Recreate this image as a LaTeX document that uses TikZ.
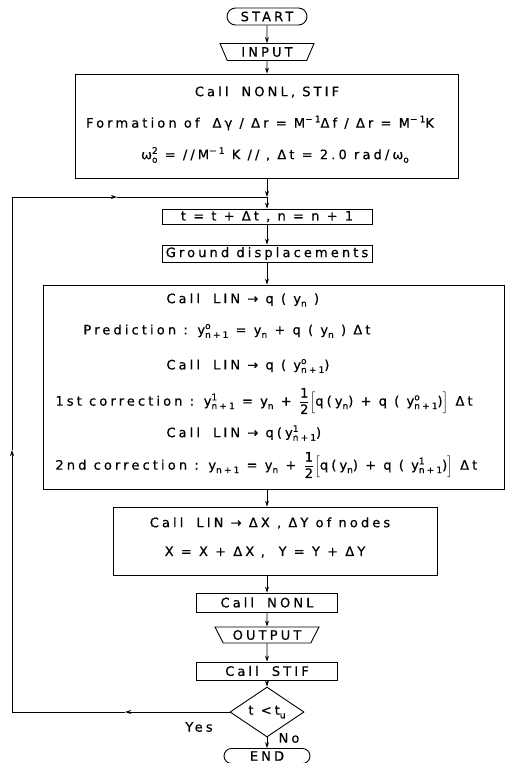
\documentclass[tikz,border=0pt]{standalone}
\usepackage{amsmath}
\usepackage{fontspec}
\setmainfont{DejaVu Sans}[LetterSpace=24, FakeBold=0.6]
\usetikzlibrary{arrows.meta,shapes.geometric,shapes.misc}
\newcommand\hi[1]{\raisebox{0.75ex}{\fontsize{9}{9}\selectfont #1}}
\newcommand\lo[1]{\raisebox{-0.5ex}{\fontsize{9}{9}\selectfont #1}}
\newcommand\hl[2]{\makebox[0pt][l]{\hi{#1}}\lo{#2}}
\newcommand\half{\ensuremath{\dfrac{\text{1}}{\text{2}}}}
\begin{document}
\begin{tikzpicture}[x=1pt,y=-1pt,
  font=\fontsize{13}{15}\selectfont, line width=0.9pt,
  box/.style={draw, rectangle, inner sep=0pt},
  term/.style={draw, rounded rectangle, inner sep=0pt},
  io/.style={draw, trapezium, shape border rotate=180, trapezium stretches body, inner sep=0pt},
  txt/.style={inner sep=0pt},
  arr/.style={-{Stealth[length=6pt,width=4pt]}}]
\useasboundingbox (0,0) rectangle (505,763);
% terminals and boxes
\node[term, minimum width=80pt, minimum height=17pt] (start) at (267,16.5) {START};
\node[io, minimum width=94pt, minimum height=17pt, trapezium left angle=53, trapezium right angle=53] (input) at (267,52) {INPUT};
\node[box, minimum width=383pt, minimum height=104pt] (box1) at (266.5,126) {};
\node[txt] (b1a) at (267,92) {Call\quad NONL, STIF};
\node[txt] (b1b) at (260,123) {Formation of\quad Δγ / Δr = M\hi{−1}Δf / Δr = M\hi{−1}K};
\node[txt] (b1c) at (275,155) {ω\hl{2}{o} = //M\hi{−1} K //\enspace, Δt = 2.0 rad/ω\lo{o}};
\coordinate (merge) at (267,197);
\node[box, minimum width=210pt, minimum height=15pt] (tbox) at (267,216.5) {t = t + Δt , n = n + 1};
\node[box, minimum width=210pt, minimum height=17pt] (ground) at (267,253.5) {Ground displacements};
\node[box, minimum width=461pt, minimum height=204pt] (box2) at (273.5,387) {};
\node[txt, anchor=west] (c1) at (166,300) {Call\quad LIN → q ( y\lo{n} )};
\node[txt, anchor=west] (c2) at (83,331) {Prediction : y\hl{o}{n+1} = y\lo{n} + q ( y\lo{n} ) Δt};
\node[txt, anchor=west] (c3) at (166,366) {Call\quad LIN → q ( y\hl{o}{n+1})};
\node[txt, anchor=west] (c4) at (55,401) {1st correction : y\hl{1}{n+1} = y\lo{n} + \half\(\Bigl[\)q(y\lo{n}) + q ( y\hl{o}{n+1})\(\Bigr]\) Δt};
\node[txt, anchor=west] (c5) at (166,433) {Call\quad LIN → q(y\hl{1}{n+1})};
\node[txt, anchor=west] (c6) at (55,465) {2nd correction : y\lo{n+1} = y\lo{n} + \half\(\Bigl[\)q(y\lo{n}) + q ( y\hl{1}{n+1})\(\Bigr]\) Δt};
\node[box, minimum width=324pt, minimum height=68pt] (box3) at (275,541) {};
\node[txt] (d1) at (270,523) {Call\quad LIN → ΔX , ΔY of nodes};
\node[txt] (d2) at (265,552) {X = X + ΔX\enspace , \enspace Y = Y + ΔY};
\node[box, minimum width=141pt, minimum height=19pt] (nonl) at (267,602.5) {Call\quad NONL};
\node[io, minimum width=104pt, minimum height=16pt, trapezium left angle=50, trapezium right angle=50] (output) at (267,635) {OUTPUT};
\node[box, minimum width=141pt, minimum height=18pt] (stif) at (267,671) {Call\quad STIF};
\node[draw, diamond, minimum width=74pt, minimum height=42pt, inner sep=0pt] (dia) at (267,712) {t <t\lo{u}};
\node[term, minimum width=86pt, minimum height=15pt] (end) at (267,756) {END};
\node[txt] (yes) at (199,727) {Yes};
\node[txt] (no) at (289,738) {No};
% loop coordinates
\coordinate (lb) at (12,712);
\coordinate (lt) at (12,197);
\coordinate (ya) at (125,712);
\coordinate (ua) at (12,450);
\coordinate (ra) at (117,197);
% connectors
\draw[arr] (start) -- (input);
\draw[arr] (input) -- (input |- box1.north);
\draw[arr] (box1.south -| merge) -- (merge);
\draw[arr] (merge) -- (tbox);
\draw[arr] (tbox) -- (ground);
\draw[arr] (ground) -- (ground |- box2.north);
\draw[arr] (box2.south -| ground) -- (box3.north -| ground);
\draw[arr] (box3.south -| nonl) -- (nonl);
\draw[arr] (nonl) -- (output);
\draw[arr] (output) -- (stif);
\draw[arr] (stif) -- (dia);
\draw[arr] (dia) -- (end);
\draw[arr] (dia.west) -- (ya);
\draw[arr] (ya) -- (lb) -- (ua);
\draw[arr] (ua) -- (lt) -- (ra);
\draw (ra) -- (merge);
\end{tikzpicture}
\end{document}
